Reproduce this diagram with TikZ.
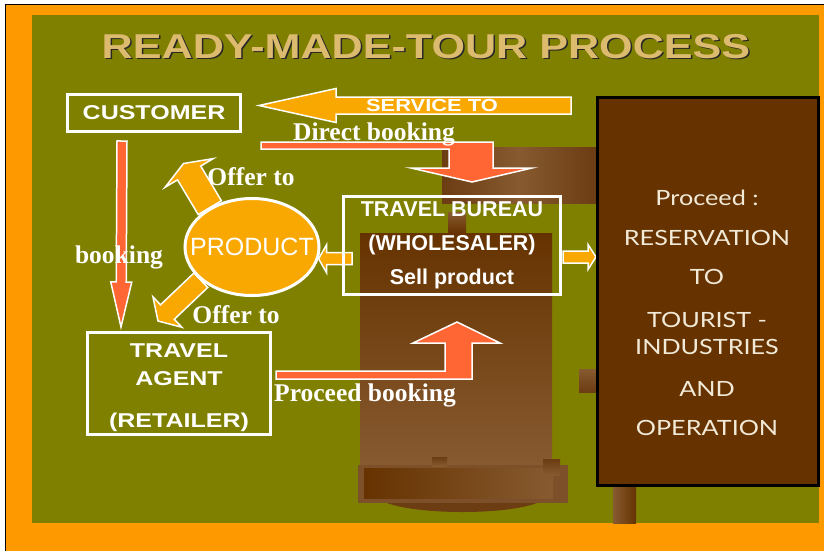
\documentclass[tikz,border=0pt]{standalone}
\usepackage{fontspec}
\setmainfont{Liberation Serif}
\setsansfont{Liberation Sans}
\newfontfamily\widesans[FakeStretch=1.25]{Liberation Sans}
\newfontfamily\boardfont[FakeStretch=1.2]{Lato}
\usepackage{tikz}
\usetikzlibrary{calc,shapes.geometric}
\pgfdeclarelayer{back}
\pgfdeclarelayer{arrows}
\pgfsetlayers{back,arrows,main}
\definecolor{bgorange}{HTML}{FF9900}
\definecolor{olivebg}{HTML}{808000}
\definecolor{arroworange}{HTML}{F8A800}
\definecolor{arrowred}{HTML}{FF6633}
\definecolor{boardbrown}{HTML}{663300}
\definecolor{woodlight}{HTML}{875A30}
\definecolor{wooddark}{HTML}{6C3C12}
\definecolor{woodmid}{HTML}{7E5029}
\definecolor{titletan}{HTML}{DCBB6E}
\definecolor{boardtext}{HTML}{F2EAD8}
\tikzset{%
	headline/.style    = {anchor=base, inner sep=0pt, font=\widesans\bfseries\fontsize{34.5}{40}\selectfont},
	framebox/.style    = {draw=white, line width=3pt, text=white, inner sep=0pt, align=center},
	boxtext/.style     = {text=white, inner sep=0pt, align=center, font=\widesans\bfseries\fontsize{20}{28}\selectfont},
	serifbold/.style   = {anchor=base, inner sep=0pt, text=white, font=\rmfamily\bfseries\fontsize{25.5}{30}\selectfont},
	orangearrow/.style = {fill=arroworange, draw=white, line width=1.5pt},
	redarrow/.style    = {fill=arrowred, draw=white, line width=1.5pt},
}
% block arrow: [style]{from}{to}{shaft half width}{head half width}{head length}
\newcommand{\blockarrow}[6][]{%
	\coordinate (ah) at ($(#3)!#6!(#2)$);
	\draw[#1] ($(#2)!#4!90:(#3)$) -- ($(ah)!#4!90:(#3)$) -- ($(ah)!#5!90:(#3)$) -- (#3)
		-- ($(ah)!#5!-90:(#3)$) -- ($(ah)!#4!-90:(#3)$) -- ($(#2)!#4!-90:(#3)$) -- cycle;
}

\begin{document}
\begin{tikzpicture}[x=1pt,y=-1pt]
	\useasboundingbox (0,0) rectangle (824,550);
	\begin{pgfonlayer}{back}
	\fill[white] (0,0) rectangle (824,550);
	\draw[fill=bgorange, line width=1pt] (5.5,4.5) rectangle (850,580);
	\fill[olivebg] (32,15) rectangle (819,523);
	
	% wooden furniture behind the chart
	\shade[left color=wooddark, right color=wooddark, middle color=woodlight] (442,147) rectangle (596,203);
	\shade[top color=woodlight, bottom color=boardbrown] (448,212) rectangle (466,233);
	\shade[top color=boardbrown, bottom color=woodlight] (360,233) rectangle (552,465);
	\shade[top color=woodlight, bottom color=wooddark] (579,369) rectangle (596,392);
	\fill[woodmid] (358,465) rectangle (568,503);
	\shade[left color=boardbrown, right color=woodlight] (364,468) rectangle (553,498);
	\fill[wooddark] (387,503) .. controls (420,515) and (505,515) .. (537,503) -- cycle;
	\shade[top color=wooddark, bottom color=woodlight] (432,457) rectangle (447,466);
	\shade[top color=wooddark, bottom color=woodlight] (543,459) rectangle (560,475);
	\shade[left color=woodlight, right color=boardbrown] (613,487) rectangle (636,523);
	\end{pgfonlayer}
	
	\node (title-shadow) [headline, text=black!85] at (427.5,59.5) {READY-MADE-TOUR PROCESS};
	\node (title) [headline, text=titletan] at (426,58) {READY-MADE-TOUR PROCESS};
	
	\node (customer) [framebox, boxtext, minimum width=173pt, minimum height=37pt] at (154,113) {CUSTOMER};
	\node (agent) [framebox, minimum width=183pt, minimum height=102pt] at (179,383.5) {};
	\node (agent-text) [boxtext] at ($(agent.center)+(0,4)$) {TRAVEL\\AGENT\\[14pt](RETAILER)};
	\node (bureau) [framebox, font=\sffamily\bfseries\fontsize{21.5}{34}\selectfont, minimum width=217pt, minimum height=98pt] at (452,245.5) {TRAVEL BUREAU\\(WHOLESALER)\\Sell product};
	\node (product) [ellipse, fill=arroworange, draw=white, line width=3pt, text=white, inner sep=0pt, minimum width=134pt, minimum height=97pt, font=\sffamily\fontsize{25}{30}\selectfont] at (252,247) {\makebox[0pt]{PRODUCT}};
	\node (board) [draw=black, fill=boardbrown, line width=3pt, minimum width=221pt, minimum height=388pt] at (708,291.5) {};
	\node (board-text) [anchor=north, inner sep=0pt, align=center, text=boardtext, font=\boardfont\fontsize{21}{39.5}\selectfont] at (707,190) {Proceed :\\RESERVATION\\TO\\[3pt]TOURIST -\\[-12pt]INDUSTRIES\\[2pt]AND\\OPERATION};
	
	\begin{pgfonlayer}{arrows}
	\coordinate (service-tail) at (571,105.5);
	\coordinate (service-tip) at ($(customer.east)+(17,-7.5)$);
	\blockarrow[orangearrow]{service-tail}{service-tip}{8.5pt}{17pt}{77pt}
	
	\coordinate (booking-tail) at ($(customer.south)+(-32,8)$);
	\coordinate (booking-tip) at ($(agent.north)+(-58,-4)$);
	\blockarrow[redarrow]{booking-tail}{booking-tip}{5pt}{10.5pt}{45pt}
	
	\coordinate (direct-tail) at ($(customer.south east)+(19,12.5)$);
	\coordinate (direct-tip) at ($(bureau.north)+(20,-13)$);
	\draw[redarrow] ($(direct-tail)+(0,-3.5)$) -- ++(232,0) -- ++(0,26) -- ++(39,0) -- (direct-tip)
		-- ++(-61,-14) -- ++(38,0) -- ++(0,-19) -- ++(-188,0) -- cycle;
	
	\coordinate (proceed-tail) at ($(agent.east)+(4,-8.5)$);
	\coordinate (proceed-tip) at ($(bureau.south)+(5,26)$);
	\draw[redarrow] ($(proceed-tail)+(0,-4)$) -- ++(169,0) -- ++(0,-28) -- ++(-32,0) -- (proceed-tip)
		-- ++(43,21) -- ++(-28,0) -- ++(0,36) -- ++(-196,0) -- cycle;
	
	\coordinate (offer-up) at ($(product.center)+(-68.5,-83.5)$);
	\blockarrow[orangearrow]{product.137}{offer-up}{13.5pt}{28pt}{11pt}
	\coordinate (offer-down) at ($(product.center)+(-94,74)$);
	\blockarrow[orangearrow]{product.213}{offer-down}{10pt}{21pt}{13pt}
	
	\coordinate (wholesale-tail) at ($(bureau.west |- product.-10)+(10,0)$);
	\blockarrow[orangearrow]{wholesale-tail}{product.-10}{6pt}{14pt}{8pt}
	\coordinate (reserve-tail) at ($(bureau.east)+(1,11.5)$);
	\coordinate (reserve-tip) at (board.west |- reserve-tail);
	\blockarrow[orangearrow]{reserve-tail}{reserve-tip}{6pt}{12.5pt}{8pt}
	\end{pgfonlayer}
	
	\node (service) [anchor=base, inner sep=0pt, text=white, font=\widesans\bfseries\fontsize{17.5}{20}\selectfont] at (432,111) {SERVICE TO};
	\node (direct) [serifbold] at (374,140) {Direct booking};
	\node (offer-up-label) [serifbold] at (251,185) {Offer to};
	\node (offer-down-label) [serifbold] at (236,323) {Offer to};
	\node (booking) [serifbold] at (119,263) {booking};
	\node (proceed) [serifbold] at (365,401) {Proceed booking};
\end{tikzpicture}
\end{document}
